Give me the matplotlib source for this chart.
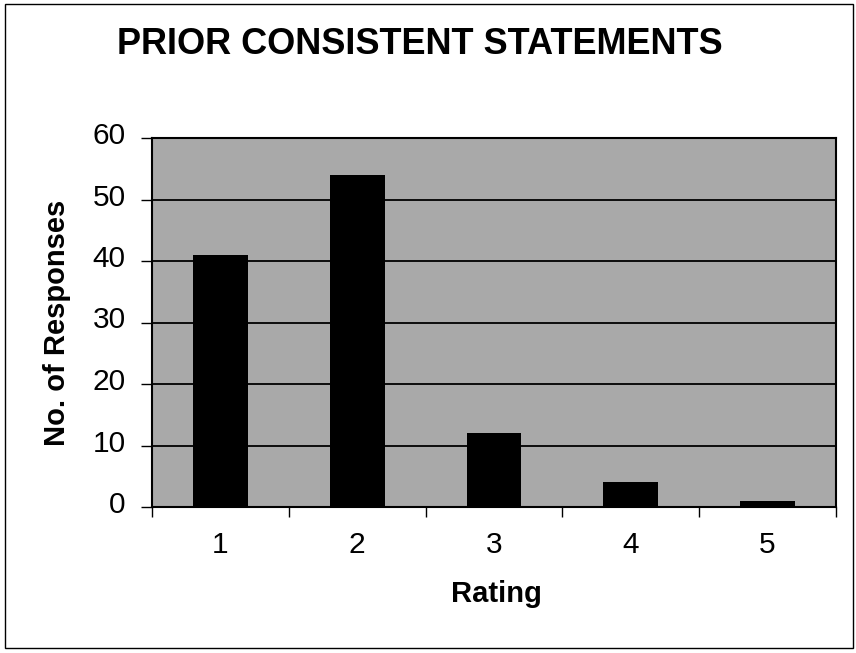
import numpy as np
import matplotlib.pyplot as plt
import matplotlib.transforms as mtransforms
from matplotlib.patches import Rectangle

# ratings and number of responses
RATINGS = ["1", "2", "3", "4", "5"]
RESPONSES = [41, 54, 12, 4, 1]
Y_TICKS = [0, 10, 20, 30, 40, 50, 60]

TITLE = "PRIOR CONSISTENT STATEMENTS"
X_LABEL = "Rating"
Y_LABEL = "No. of Responses"

plt.rcParams["font.family"] = ["Liberation Sans", "DejaVu Sans"]

fig = plt.figure(figsize=(8.56, 6.53), dpi=100)
fig.patch.set_facecolor("white")

# outer chart frame
fig.add_artist(Rectangle((0.006, 0.008), 0.990, 0.986, transform=fig.transFigure,
                         fill=False, edgecolor="black", lw=1.0))

ax = fig.add_axes([152 / 856, 1 - 507 / 653, 684 / 856, 369 / 653])
ax.set_facecolor("#a9a9a9")

x = np.arange(len(RATINGS))
ax.bar(x, RESPONSES, width=0.4, color="black", zorder=3)

ax.set_xlim(-0.5, len(RATINGS) - 0.5)
ax.set_ylim(0, 60)

ax.set_yticks(Y_TICKS)
ax.yaxis.grid(True, color="black", lw=1.3, zorder=1)
ax.set_axisbelow(True)

# category labels centred, tick marks on the category boundaries
ax.set_xticks(x)
ax.set_xticklabels(RATINGS)
ax.set_xticks(np.arange(-0.5, len(RATINGS)), minor=True)
ax.tick_params(axis="x", which="major", length=0, pad=17, labelsize=21.5)
ax.tick_params(axis="x", which="minor", length=7, width=1, direction="out")
ax.tick_params(axis="y", length=8, width=1, direction="out", labelsize=21.5, pad=11)

# value labels sit a little above their gridlines, as in the original
shift = mtransforms.ScaledTranslation(0, 5 / 100, fig.dpi_scale_trans)
for lab in ax.get_yticklabels():
    lab.set_transform(lab.get_transform() + shift)

for s in ax.spines.values():
    s.set_linewidth(1.5)
    s.set_color("black")

ax.set_xlabel(X_LABEL, fontsize=21, fontweight="bold")
ax.xaxis.set_label_coords(0.503, -0.197)
ax.set_ylabel(Y_LABEL, fontsize=21, fontweight="bold")
ax.yaxis.set_label_coords(-0.118, 0.5)

fig.text(0.490, 0.932, TITLE, ha="center", va="center",
         fontsize=26, fontweight="bold")

fig.savefig("out.png", dpi=100, facecolor="white")
